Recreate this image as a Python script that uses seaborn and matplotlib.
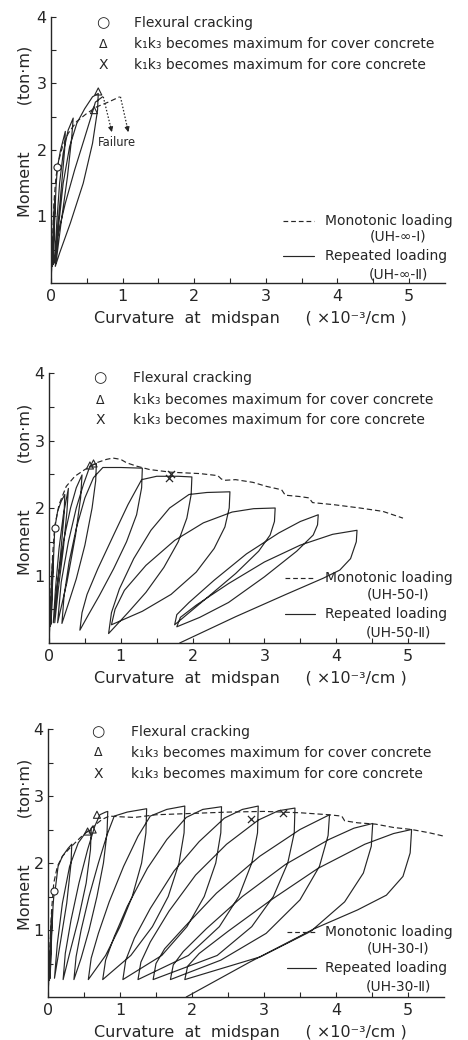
import numpy as np
import matplotlib
matplotlib.use("Agg")
import matplotlib.pyplot as plt
import seaborn as sns

# ------------------------------------------------------------------ data
x_ticks = [0, 1, 2, 3, 4, 5]
y_ticks = [1, 2, 3, 4]
specimen = ["\u221e", "50", "30"]

legend_labels = ["Flexural cracking",
                 "k\u2081k\u2083 becomes maximum for cover concrete",
                 "k\u2081k\u2083 becomes maximum for core concrete"]
legend_symbols = ["\u25cb", "\u0394", "X"]

# ---- panel 1 : UH-inf
p1_mono_x = [0, 0.02, 0.04, 0.07, 0.11, 0.16, 0.24, 0.36, 0.50, 0.64, 0.80, 0.96]
p1_mono_y = [0, 0.6, 1.2, 1.6, 1.85, 2.05, 2.25, 2.43, 2.55, 2.65, 2.72, 2.80]
p1_rep_x = [0, 0.02, 0.04, 0.05, 0.03, 0.02, 0.04, 0.06, 0.04, 0.03,
            0.05, 0.07, 0.09, 0.13, 0.20,
            0.19, 0.15, 0.09, 0.05,
            0.08, 0.12, 0.17, 0.24, 0.31,
            0.29, 0.23, 0.14, 0.07,
            0.11, 0.17, 0.26, 0.36, 0.47, 0.58, 0.66,
            0.65, 0.58, 0.45, 0.27, 0.12, 0.06,
            0.09, 0.20, 0.33, 0.46, 0.56, 0.62, 0.72]
p1_rep_y = [0, 0.5, 1.0, 1.2, 0.6, 0.25, 0.8, 1.3, 0.7, 0.28,
            0.9, 1.45, 1.74, 1.98, 2.28,
            2.0, 1.5, 0.8, 0.3,
            0.9, 1.5, 1.95, 2.3, 2.48,
            2.2, 1.6, 0.9, 0.3,
            0.9, 1.5, 2.05, 2.4, 2.62, 2.8, 2.85,
            2.6, 2.1, 1.5, 0.9, 0.45, 0.25,
            0.7, 1.2, 1.7, 2.15, 2.5, 2.72, 2.80]
p1_crack = ([0.09], [1.74])
p1_cover = ([0.66, 0.60], [2.88, 2.60])
p1_core = ([], [])
p1_fail_start = [(0.73, 2.80), (0.97, 2.80)]
p1_fail_end = [(0.85, 2.27), (1.08, 2.27)]

# ---- panel 2 : UH-50
p2_mono_x = [0, 0.02, 0.05, 0.08, 0.14, 0.24, 0.36, 0.50, 0.66, 0.80, 0.89, 1.00,
             1.08, 1.22, 1.40, 1.70, 2.10, 2.35, 2.40, 2.44, 2.60, 2.84, 3.03,
             3.24, 3.29, 3.49, 3.62, 3.67, 3.96, 4.33, 4.65, 4.79, 4.93]
p2_mono_y = [0, 0.6, 1.3, 1.73, 2.05, 2.32, 2.47, 2.57, 2.67, 2.72, 2.74, 2.72,
             2.67, 2.62, 2.57, 2.53, 2.51, 2.48, 2.43, 2.41, 2.42, 2.38, 2.32,
             2.27, 2.19, 2.17, 2.15, 2.08, 2.05, 2.00, 1.95, 1.90, 1.85]
p2_rep_x = [0, 0.02, 0.04, 0.05, 0.03, 0.02, 0.04, 0.06, 0.04, 0.03,
            0.05, 0.07, 0.08, 0.12, 0.17, 0.22,
            0.21, 0.16, 0.10, 0.06,
            0.09, 0.14, 0.20, 0.27,
            0.25, 0.20, 0.13, 0.08,
            0.12, 0.20, 0.30, 0.38, 0.46,
            0.44, 0.37, 0.25, 0.12,
            0.17, 0.27, 0.38, 0.48, 0.57, 0.66,
            0.65, 0.60, 0.50, 0.38, 0.26, 0.18,
            0.21, 0.28, 0.38, 0.50, 0.62, 0.75, 1.00, 1.30,
            1.29, 1.22, 1.08, 0.90, 0.70, 0.55, 0.43,
            0.46, 0.53, 0.68, 0.90, 1.10, 1.29, 1.50, 1.80, 1.99,
            1.98, 1.92, 1.80, 1.60, 1.35, 1.10, 0.83,
            0.87, 0.98, 1.18, 1.42, 1.68, 1.95, 2.20, 2.52,
            2.51, 2.45, 2.30, 2.05, 1.70, 1.30, 0.87,
            0.92, 1.05, 1.35, 1.75, 2.15, 2.55, 2.85, 3.15,
            3.14, 3.08, 2.92, 2.60, 2.20, 1.75,
            1.78, 1.95, 2.30, 2.75, 3.20, 3.50, 3.75,
            3.74, 3.68, 3.45, 3.00, 2.50, 2.10, 1.78,
            1.83, 2.05, 2.50, 3.00, 3.50, 3.95, 4.29,
            4.28, 4.20, 4.05, 3.82, 3.30, 2.60, 1.82]
p2_rep_y = [0, 0.5, 1.0, 1.2, 0.6, 0.25, 0.8, 1.3, 0.7, 0.28,
            0.9, 1.45, 1.7, 1.95, 2.1, 2.2,
            1.9, 1.3, 0.7, 0.3,
            0.8, 1.4, 1.9, 2.29,
            1.95, 1.4, 0.8, 0.3,
            0.9, 1.5, 2.0, 2.3, 2.49,
            2.15, 1.6, 0.9, 0.3,
            0.9, 1.5, 2.0, 2.35, 2.62, 2.66,
            2.4, 2.0, 1.45, 0.95, 0.55, 0.29,
            0.7, 1.2, 1.7, 2.15, 2.45, 2.6, 2.6, 2.59,
            2.3, 1.9, 1.5, 1.1, 0.7, 0.42, 0.19,
            0.45, 0.72, 1.1, 1.6, 2.05, 2.42, 2.47, 2.47, 2.46,
            2.2, 1.85, 1.5, 1.12, 0.75, 0.45, 0.14,
            0.45, 0.8, 1.25, 1.67, 2.0, 2.2, 2.23, 2.24,
            2.0, 1.72, 1.4, 1.05, 0.72, 0.47, 0.27,
            0.5, 0.78, 1.15, 1.52, 1.78, 1.94, 1.99, 2.0,
            1.8, 1.6, 1.36, 1.03, 0.67, 0.27,
            0.42, 0.6, 0.93, 1.32, 1.63, 1.8, 1.9,
            1.75, 1.6, 1.36, 0.98, 0.6, 0.38, 0.24,
            0.38, 0.56, 0.88, 1.2, 1.45, 1.61, 1.67,
            1.5, 1.25, 1.08, 0.96, 0.72, 0.39, 0.0]
p2_crack = ([0.08], [1.70])
p2_cover = ([0.57, 0.62], [2.63, 2.66])
p2_core = ([1.70, 1.67], [2.50, 2.44])

# ---- panel 3 : UH-30
p3_mono_x = [0, 0.02, 0.05, 0.08, 0.13, 0.20, 0.30, 0.45, 0.60, 0.75, 0.85, 1.00,
             1.20, 1.50, 2.00, 2.50, 3.00, 3.50, 3.90, 4.08, 4.12, 4.30, 4.55,
             4.80, 5.05, 5.30, 5.50]
p3_mono_y = [0, 0.6, 1.3, 1.7, 1.95, 2.1, 2.22, 2.38, 2.52, 2.65, 2.70, 2.69,
             2.68, 2.72, 2.74, 2.76, 2.77, 2.75, 2.72, 2.70, 2.63, 2.60, 2.58,
             2.53, 2.50, 2.45, 2.40]
p3_rep_x = [0, 0.02, 0.04, 0.05, 0.03, 0.02, 0.04, 0.06, 0.04, 0.03,
            0.05, 0.07, 0.08, 0.10, 0.14, 0.20, 0.28, 0.33,
            0.32, 0.26, 0.17, 0.09,
            0.13, 0.20, 0.30, 0.42, 0.52, 0.60,
            0.59, 0.53, 0.42, 0.30, 0.21,
            0.24, 0.32, 0.43, 0.55, 0.65, 0.72, 0.80, 0.83,
            0.82, 0.77, 0.68, 0.57, 0.46, 0.36,
            0.39, 0.46, 0.57, 0.70, 0.82, 0.92, 1.10, 1.37,
            1.36, 1.30, 1.17, 1.00, 0.80, 0.56,
            0.60, 0.70, 0.85, 1.05, 1.25, 1.42, 1.65, 1.90,
            1.89, 1.82, 1.67, 1.45, 1.15, 0.76,
            0.80, 0.92, 1.10, 1.38, 1.65, 1.92, 2.15, 2.41,
            2.40, 2.33, 2.17, 1.93, 1.58, 1.04,
            1.08, 1.20, 1.42, 1.75, 2.10, 2.45, 2.70, 2.92,
            2.91, 2.83, 2.65, 2.38, 1.95, 1.25,
            1.29, 1.42, 1.68, 2.05, 2.48, 2.92, 3.20, 3.43,
            3.42, 3.33, 3.13, 2.83, 2.35, 1.46,
            1.50, 1.62, 1.90, 2.34, 2.94, 3.50, 3.91,
            3.89, 3.77, 3.50, 3.03, 2.40, 1.70,
            1.74, 1.88, 2.20, 2.70, 3.30, 3.90, 4.25, 4.51,
            4.49, 4.38, 4.12, 3.65, 2.95, 1.90,
            1.94, 2.10, 2.50, 3.10, 3.75, 4.40, 4.80, 5.05,
            5.03, 4.93, 4.70, 4.30, 3.70, 2.80, 1.92]
p3_rep_y = [0, 0.5, 1.0, 1.2, 0.6, 0.25, 0.8, 1.3, 0.7, 0.28,
            0.9, 1.35, 1.5, 1.6, 1.95, 2.1, 2.22, 2.28,
            2.0, 1.4, 0.8, 0.28,
            0.8, 1.4, 1.95, 2.3, 2.45, 2.5,
            2.2, 1.7, 1.15, 0.65, 0.26,
            0.65, 1.15, 1.7, 2.2, 2.55, 2.72, 2.76, 2.77,
            2.45, 2.0, 1.5, 1.0, 0.58, 0.26,
            0.6, 1.0, 1.5, 2.0, 2.42, 2.7, 2.76, 2.81,
            2.45, 2.0, 1.5, 1.05, 0.62, 0.26,
            0.58, 0.95, 1.42, 1.95, 2.4, 2.7, 2.8, 2.85,
            2.45, 2.0, 1.5, 1.05, 0.62, 0.26,
            0.55, 0.9, 1.35, 1.92, 2.35, 2.68, 2.8, 2.84,
            2.45, 2.0, 1.5, 1.05, 0.62, 0.26,
            0.55, 0.88, 1.32, 1.88, 2.32, 2.67, 2.8, 2.85,
            2.45, 2.0, 1.5, 1.05, 0.62, 0.26,
            0.52, 0.82, 1.28, 1.82, 2.28, 2.64, 2.78, 2.82,
            2.45, 2.0, 1.5, 1.05, 0.62, 0.26,
            0.50, 0.72, 1.05, 1.55, 2.10, 2.50, 2.72,
            2.41, 1.95, 1.45, 0.95, 0.55, 0.26,
            0.48, 0.68, 1.02, 1.5, 1.98, 2.35, 2.52, 2.59,
            2.25, 1.85, 1.42, 0.98, 0.6, 0.26,
            0.46, 0.65, 0.98, 1.45, 1.92, 2.28, 2.44, 2.50,
            2.15, 1.8, 1.52, 1.3, 1.02, 0.52, 0.0]
p3_crack = ([0.08], [1.58])
p3_cover = ([0.68, 0.55, 0.62], [2.72, 2.47, 2.50])
p3_core = ([2.82, 3.27], [2.66, 2.75])

# ------------------------------------------------------------------ style
sns.set_theme(style="white")
plt.rcParams["font.family"] = ["DejaVu Sans", "Noto Sans CJK JP"]
INK = "#262626"

W, H = 468, 1040
fig = plt.figure(figsize=(W / 100, H / 100), dpi=100)
fig.patch.set_facecolor("white")


def fpos(X, Y):
    return X / W, 1 - Y / H


# pixel frame of each panel: x=0 px, x=5 px, y=0 px, y=4 px
frames = [(51, 409, 283, 17), (49, 408, 643, 373), (48, 408, 997, 729)]
sym_X = [103, 100, 98]
txt_X = [134, 133, 131]
top_rows = [(23, 44, 65), (378, 400, 420), (732, 753, 774)]
line_X = [(283, 314), (285, 315), (287, 316)]
right_rows = [(221, 237, 256, 274), (578, 595, 614, 632), (932, 949, 968, 986)]

data = [
    (p1_mono_x, p1_mono_y, p1_rep_x, p1_rep_y, p1_crack, p1_cover, p1_core),
    (p2_mono_x, p2_mono_y, p2_rep_x, p2_rep_y, p2_crack, p2_cover, p2_core),
    (p3_mono_x, p3_mono_y, p3_rep_x, p3_rep_y, p3_crack, p3_cover, p3_core),
]

for i, (fr, d) in enumerate(zip(frames, data)):
    x0, x5, y0, y4 = fr
    unit = (x5 - x0) / 5.0
    right = x0 + 5.5 * unit
    ax = fig.add_axes([x0 / W, 1 - y0 / H, (right - x0) / W, (y0 - y4) / H])
    ax.set_facecolor("none")
    mx, my, rx, ry, crack, cover, core = d

    sns.lineplot(x=rx, y=ry, sort=False, estimator=None, ax=ax,
                 color=INK, lw=0.85)
    sns.lineplot(x=mx, y=my, sort=False, estimator=None, ax=ax,
                 color=INK, lw=0.85, linestyle=(0, (4.5, 2.5)))

    ax.scatter(crack[0], crack[1], s=26, marker="o", facecolors="white",
               edgecolors=INK, linewidths=0.8, zorder=5)
    if cover[0]:
        ax.scatter(cover[0], cover[1], s=26, marker="^", facecolors="none",
                   edgecolors=INK, linewidths=0.8, zorder=5)
    if core[0]:
        ax.scatter(core[0], core[1], s=26, marker="x", color=INK,
                   linewidths=0.9, zorder=5)

    if i == 0:
        for (sx, sy), (ex, ey) in zip(p1_fail_start, p1_fail_end):
            ax.plot([sx, ex], [sy, ey], ls=(0, (1.2, 1.5)), color=INK, lw=0.9)
            ax.annotate("", xy=(ex, ey), xytext=(ex - 0.02, ey + 0.09),
                        arrowprops=dict(arrowstyle="-|>", color=INK, lw=0.8,
                                        mutation_scale=7, shrinkA=0, shrinkB=0))
        ax.text(0.92, 2.12, "Failure", fontsize=8.3, color=INK,
                ha="center", va="center")

    ax.set_xlim(0, 5.5)
    ax.set_ylim(0, 4)
    ax.set_xticks(x_ticks)
    ax.set_xticklabels([str(t) for t in x_ticks])
    ax.set_yticks(y_ticks)
    ax.set_yticklabels([str(t) for t in y_ticks])
    ax.set_xticks(np.arange(0.5, 5.5, 1.0), minor=True)
    ax.set_yticks(np.arange(0.5, 4.0, 1.0), minor=True)
    ax.tick_params(which="both", direction="in", length=3.5, width=0.8,
                   colors=INK, labelsize=11.5, left=True, bottom=True)
    ax.tick_params(axis="y", pad=3)
    ax.tick_params(axis="x", pad=4)
    for s in ["top", "right"]:
        ax.spines[s].set_visible(False)
    for s in ["left", "bottom"]:
        ax.spines[s].set_color(INK)
        ax.spines[s].set_linewidth(1.0)
    ax.set_xlabel("")
    ax.set_ylabel("")

    # y label
    yc = y0 - 0.57 * (y0 - y4)
    fig.text(*fpos(25, yc), "Moment         (ton\u00b7m)", rotation=90,
             ha="center", va="center", fontsize=11.5, color=INK)
    # x label
    fig.text(*fpos(250, y0 + 36), "Curvature  at  midspan     ( \u00d710\u207b\u00b3/cm )",
             ha="center", va="center", fontsize=11.5, color=INK)

    # upper-left key
    for sym, lab, Y in zip(legend_symbols, legend_labels, top_rows[i]):
        fs = {"\u25cb": 11, "\u0394": 9, "X": 10}[sym]
        fig.text(*fpos(sym_X[i], Y), sym, ha="center", va="center",
                 fontsize=fs, color=INK)
        fig.text(*fpos(txt_X[i], Y), lab, ha="left", va="center",
                 fontsize=10, color=INK)

    # lower-right key
    la, lb = line_X[i]
    r1, r2, r3, r4 = right_rows[i]
    fig.add_artist(plt.Line2D([la / W, lb / W], [1 - r1 / H, 1 - r1 / H],
                              color=INK, lw=0.85, ls=(0, (4, 2.5))))
    fig.add_artist(plt.Line2D([la / W, lb / W], [1 - r3 / H, 1 - r3 / H],
                              color=INK, lw=0.85))
    fig.text(*fpos(325, r1), "Monotonic loading", ha="left", va="center",
             fontsize=10, color=INK)
    fig.text(*fpos(398, r2), "(UH-%s-\u2160)" % specimen[i], ha="center",
             va="center", fontsize=10, color=INK)
    fig.text(*fpos(325, r3), "Repeated loading", ha="left", va="center",
             fontsize=10, color=INK)
    fig.text(*fpos(398, r4), "(UH-%s-\u2161)" % specimen[i], ha="center",
             va="center", fontsize=10, color=INK)

fig.savefig("out.png", dpi=100, facecolor="white")
